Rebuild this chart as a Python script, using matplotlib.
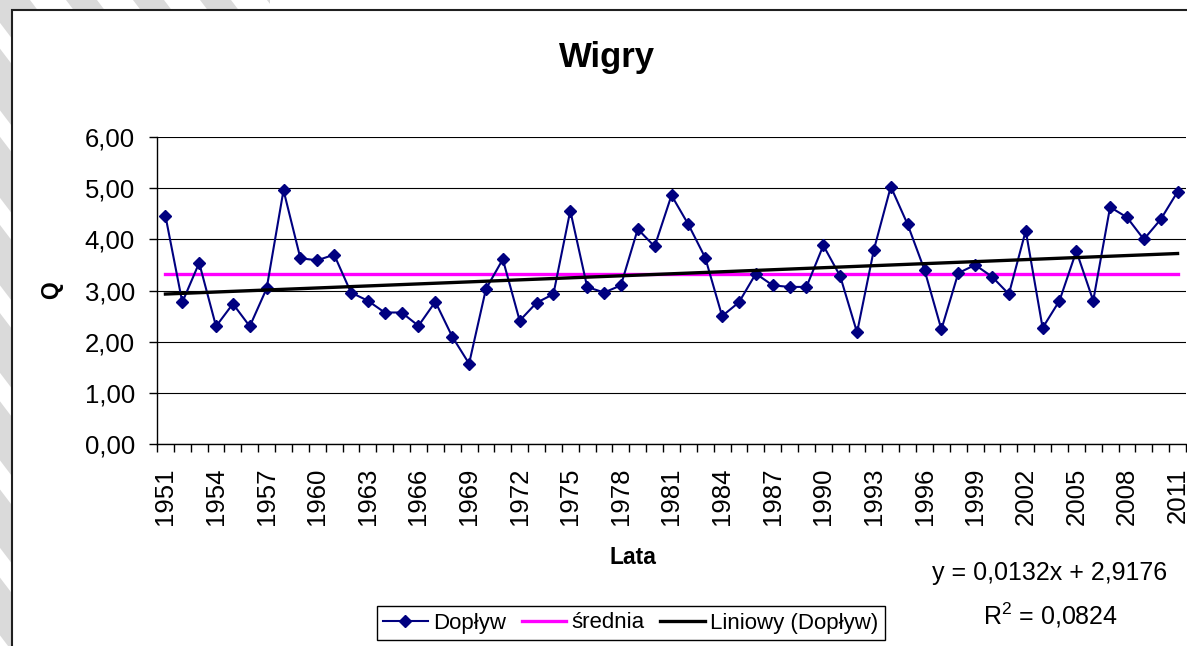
import numpy as np
import matplotlib
matplotlib.use('Agg')
import matplotlib.pyplot as plt
from matplotlib.patches import Polygon, Rectangle
from matplotlib.lines import Line2D
from matplotlib.ticker import FuncFormatter, FixedLocator

plt.rcParams['font.family'] = ['Liberation Sans', 'DejaVu Sans']
plt.rcParams['mathtext.fontset'] = 'custom'
plt.rcParams['mathtext.rm'] = 'Liberation Sans'

# data
years = list(range(1951, 2012))
doplyw = [4.46, 2.77, 3.54, 2.30, 2.74, 2.30, 3.04, 4.96, 3.63, 3.59,
          3.70, 2.96, 2.80, 2.57, 2.57, 2.31, 2.78, 2.10, 1.57, 3.03,
          3.61, 2.41, 2.76, 2.93, 4.56, 3.07, 2.96, 3.10, 4.20, 3.86,
          4.86, 4.29, 3.64, 2.50, 2.77, 3.33, 3.10, 3.07, 3.07, 3.88,
          3.28, 2.18, 3.80, 5.03, 4.29, 3.40, 2.24, 3.34, 3.50, 3.27,
          2.93, 4.17, 2.27, 2.80, 3.77, 2.80, 4.63, 4.43, 4.00, 4.39, 4.93]
trend_coef = [0.0132, 2.9176]   # y = a*x + b, x = 1..61
r2 = 0.0824

W, H = 1187, 646
fig = plt.figure(figsize=(W / 100, H / 100), dpi=100)


def fpts(pts):
    return [(px / W, 1 - py / H) for px, py in pts]


# grey diagonal stripes of the page behind the chart (top-left only)
top_clip = Rectangle((0, 0), 270 / W, 1, transform=fig.transFigure)
for x0 in range(-470, 270, 67):
    pts = [(x0, 0), (x0 + 31, 0), (x0 + 31 + 0.76 * H, H), (x0 + 0.76 * H, H)]
    p = Polygon(fpts(pts), closed=True, facecolor='#dadada', edgecolor='none',
                transform=fig.transFigure, zorder=-3)
    p.set_clip_path(top_clip)
    fig.add_artist(p)
left_clip = Rectangle((0, 0), 14 / W, 1, transform=fig.transFigure)
for k in range(-5, 5):
    yc = 365 + 87.5 * k
    pts = [(6 - 12 + 0.76 * (-yc), 0), (6 + 12 + 0.76 * (-yc), 0),
           (6 + 12 + 0.76 * (H - yc), H), (6 - 12 + 0.76 * (H - yc), H)]
    p = Polygon(fpts(pts), closed=True, facecolor='#dadada', edgecolor='none',
                transform=fig.transFigure, zorder=-3)
    p.set_clip_path(left_clip)
    fig.add_artist(p)

# chart area frame
fig.add_artist(Rectangle((12 / W, -10 / H), (W + 20) / W, H / H,
                         facecolor='white', edgecolor='#202020', linewidth=1.5,
                         transform=fig.transFigure, zorder=-2))

ax = fig.add_axes([157 / W, (H - 444) / H, 1029 / W, 307 / H])
ax.patch.set_alpha(0)

x = np.arange(len(years))
mean_val = np.mean(doplyw)
trend = trend_coef[0] * (x + 1) + trend_coef[1]

ax.plot(x, doplyw, color='#000080', linewidth=1.5, marker='D', markersize=6.6,
        zorder=3)
ax.plot([x[0], x[-1]], [mean_val, mean_val], color='#ff00ff', linewidth=2.4, zorder=2)
ax.plot(x, trend, color='black', linewidth=2.4, zorder=4)

ax.set_xlim(-0.5, len(years) - 0.5)
ax.set_ylim(0, 6)

ax.set_yticks(range(0, 7))
ax.yaxis.set_major_formatter(FuncFormatter(lambda v, p: f'{v:.2f}'.replace('.', ',')))
ax.yaxis.grid(True, color='black', linewidth=0.8)
ax.set_axisbelow(True)

lab_idx = [i for i, yr in enumerate(years) if (yr - 1951) % 3 == 0]
ax.xaxis.set_major_locator(FixedLocator(lab_idx))
ax.set_xticklabels([str(years[i]) for i in lab_idx], rotation=90)
ax.xaxis.set_minor_locator(FixedLocator(np.arange(-0.5, len(years), 1.0)))
ax.tick_params(axis='x', which='major', length=0, pad=17, labelsize=18.5)
ax.tick_params(axis='x', which='minor', length=6, width=1, direction='out')
ax.tick_params(axis='y', length=6, width=1, direction='out', pad=10, labelsize=18.5)

ax.spines['top'].set_visible(False)
ax.spines['right'].set_visible(False)
ax.spines['left'].set_linewidth(1)
ax.spines['bottom'].set_linewidth(1)

fig.text(607 / W, 1 - 57 / H, 'Wigry', fontsize=25, fontweight='bold',
         ha='center', va='center')
fig.text(633 / W, 1 - 557 / H, 'Lata', fontsize=16.5, fontweight='bold',
         ha='center', va='center')
fig.text(52 / W, 1 - 290 / H, 'Q', fontsize=16.5, fontweight='bold', rotation=90,
         ha='center', va='center')

fig.text(1050 / W, 1 - 573 / H,
         'y = ' + f'{trend_coef[0]:.4f}'.replace('.', ',') + 'x + '
         + f'{trend_coef[1]:.4f}'.replace('.', ','),
         fontsize=18, ha='center', va='center')
fig.text(983 / W, 1 - 615 / H, 'R$^{2}$ = ' + f'{r2:.4f}'.replace('.', ','),
         fontsize=18, ha='left', va='center')

handles = [
    Line2D([], [], color='#000080', linewidth=1.5, marker='D', markersize=6.6),
    Line2D([], [], color='#ff00ff', linewidth=2.4),
    Line2D([], [], color='black', linewidth=2.4),
]
leg = fig.legend(handles, ['Dopływ', 'średnia', 'Liniowy (Dopływ)'], ncol=3,
                 loc='center', bbox_to_anchor=(631 / W, 1 - 623 / H),
                 fontsize=16, frameon=True, fancybox=False, edgecolor='black',
                 framealpha=1, handlelength=2.0, handletextpad=0.25,
                 columnspacing=0.7, borderpad=0.3, borderaxespad=0)
leg.get_frame().set_linewidth(1)

fig.savefig('out.png', dpi=100)
